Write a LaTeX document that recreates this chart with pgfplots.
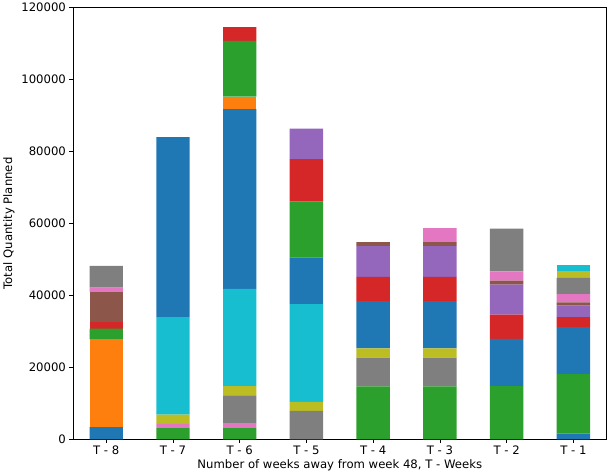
\documentclass[border=0pt]{standalone}
\usepackage{fontspec}
\setmainfont{DejaVu Sans}
\usepackage{pgfplots}
\usepackage{pgfplotstable}
\pgfplotsset{compat=1.18}
\definecolor{c0}{HTML}{1F77B4}
\definecolor{c1}{HTML}{FF7F0E}
\definecolor{c2}{HTML}{2CA02C}
\definecolor{c3}{HTML}{D62728}
\definecolor{c4}{HTML}{9467BD}
\definecolor{c5}{HTML}{8C564B}
\definecolor{c6}{HTML}{E377C2}
\definecolor{c7}{HTML}{7F7F7F}
\definecolor{c8}{HTML}{BCBD22}
\definecolor{c9}{HTML}{17BECF}
\pgfplotstableread{
x s0 s1 s2 s3 s5 s6 s7 s8 s9 s10 s11 s12 s13 s14 s15 s16 s17 s18 s19
0 3400 24400 3000 1800 8300 1300 6000 0 0 0 0 0 0 0 0 0 0 0 0
1 0 0 3100 0 0 1200 0 2600 27100 50000 0 0 0 0 0 0 0 0 0
2 0 0 3100 0 0 1400 7700 2600 27000 50000 3500 15500 3800 0 0 0 0 0 0
3 0 0 0 0 0 0 7900 2500 27200 13000 0 15500 11800 8500 0 0 0 0 0
4 0 0 14700 0 0 0 8000 2600 0 13100 0 0 6800 8500 1100 0 0 0 0
5 0 0 14700 0 0 0 8000 2600 0 13100 0 0 6800 8500 1100 3900 0 0 0
6 0 0 14800 0 0 0 0 0 0 13100 0 0 6800 8300 1100 2600 11900 0 0
7 1600 0 16500 0 0 0 0 0 0 13100 0 0 2800 3200 900 2300 4500 1800 1900
}\data
\begin{document}
\begin{tikzpicture}
\begin{axis}[
  width=538bp, height=435bp, scale only axis,
  xmin=-0.5, xmax=7.5, ymin=0, ymax=120000,
  ybar stacked, bar width=0.5,
  xtick={0,...,7},
  xticklabels={T - 8,T - 7,T - 6,T - 5,T - 4,T - 3,T - 2,T - 1},
  ytick={0,20000,40000,60000,80000,100000,120000},
  scaled y ticks=false,
  yticklabel style={/pgf/number format/fixed,/pgf/number format/1000 sep={}},
  /pgf/number format/assume math mode=true,
  tick align=outside, tick pos=left,
  major tick length=3.5bp,
  tick style={black, line width=0.6pt},
  axis line style={black, line width=0.6pt},
  ticklabel style={font=\fontsize{11.8}{14}\selectfont},
  label style={font=\fontsize{11.8}{14}\selectfont},
  xlabel={Number of weeks away from week 48, T - Weeks},
  ylabel={Total Quantity Planned},
  xlabel style={yshift=2pt},
  every axis plot/.append style={draw=none},
]
\addplot[fill=c0] table[x=x,y=s0]{\data};
\addplot[fill=c1] table[x=x,y=s1]{\data};
\addplot[fill=c2] table[x=x,y=s2]{\data};
\addplot[fill=c3] table[x=x,y=s3]{\data};
\addplot[fill=c5] table[x=x,y=s5]{\data};
\addplot[fill=c6] table[x=x,y=s6]{\data};
\addplot[fill=c7] table[x=x,y=s7]{\data};
\addplot[fill=c8] table[x=x,y=s8]{\data};
\addplot[fill=c9] table[x=x,y=s9]{\data};
\addplot[fill=c0] table[x=x,y=s10]{\data};
\addplot[fill=c1] table[x=x,y=s11]{\data};
\addplot[fill=c2] table[x=x,y=s12]{\data};
\addplot[fill=c3] table[x=x,y=s13]{\data};
\addplot[fill=c4] table[x=x,y=s14]{\data};
\addplot[fill=c5] table[x=x,y=s15]{\data};
\addplot[fill=c6] table[x=x,y=s16]{\data};
\addplot[fill=c7] table[x=x,y=s17]{\data};
\addplot[fill=c8] table[x=x,y=s18]{\data};
\addplot[fill=c9] table[x=x,y=s19]{\data};
\end{axis}
\end{tikzpicture}
\end{document}
